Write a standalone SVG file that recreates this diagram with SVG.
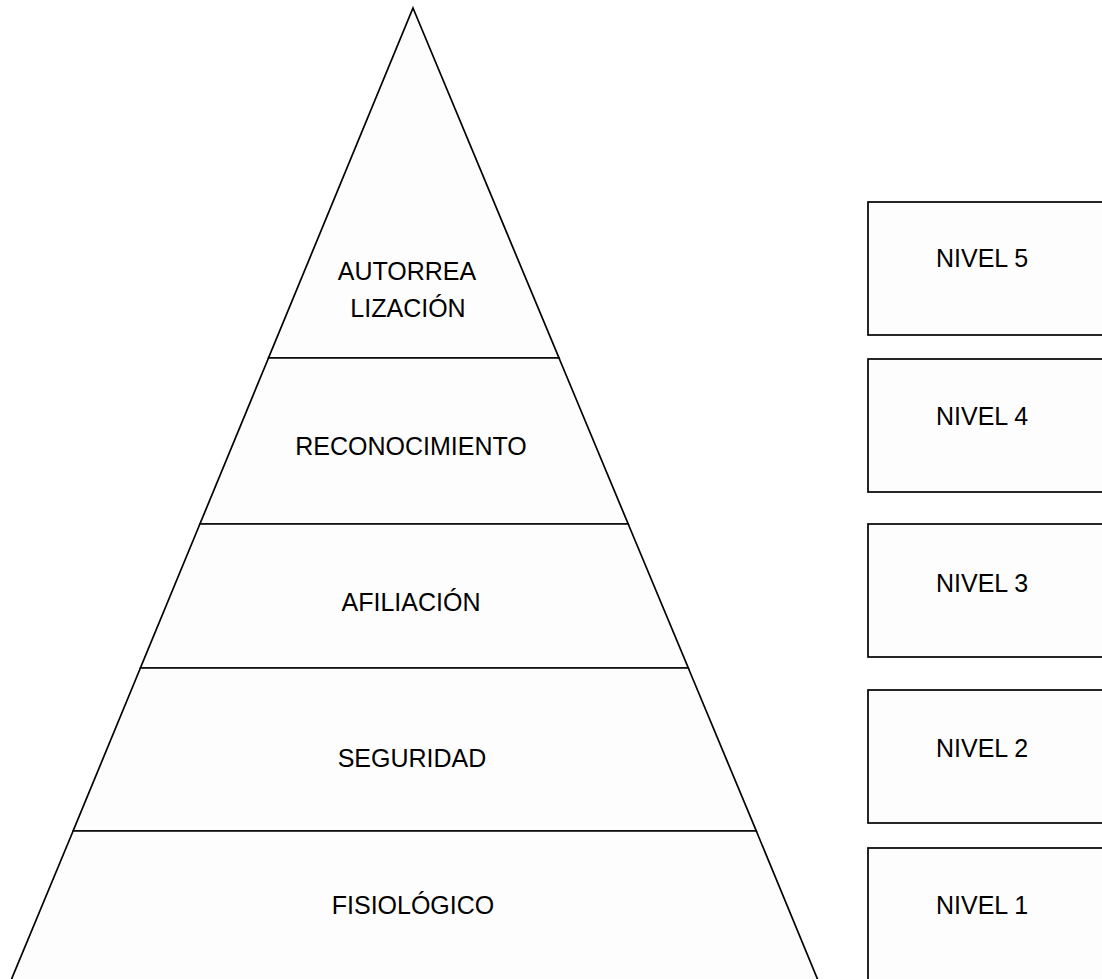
<svg xmlns="http://www.w3.org/2000/svg" width="1102" height="979" viewBox="0 0 1102 979">
<style>
.lvl{fill:#fdfdfd;stroke:#000;stroke-width:1.7;stroke-linejoin:miter}
.box{fill:#fdfdfd;stroke:#000;stroke-width:1.7}
.t{font-family:"Liberation Sans",Arial,sans-serif;font-size:25px;fill:#000}
.c{text-anchor:middle}
</style>
<rect width="1102" height="979" fill="#ffffff"/>
<g id="level5">
<polygon class="lvl" points="413,8 559,358 268.5,358"/>
<text class="t c" x="407" y="280">AUTORREA</text>
<text class="t c" x="408" y="317">LIZACIÓN</text>
</g>
<g id="level4">
<polygon class="lvl" points="268.5,358 559,358 628.2,524 199.9,524"/>
<text class="t c" x="411" y="455">RECONOCIMIENTO</text>
</g>
<g id="level3">
<polygon class="lvl" points="199.9,524 628.2,524 688.3,668 140.4,668"/>
<text class="t c" x="411" y="611">AFILIACIÓN</text>
</g>
<g id="level2">
<polygon class="lvl" points="140.4,668 688.3,668 756.3,831 73.1,831"/>
<text class="t c" x="412" y="767">SEGURIDAD</text>
</g>
<g id="level1">
<polygon class="lvl" points="73.1,831 756.3,831 822,990 7,990"/>
<text class="t c" x="413" y="914">FISIOLÓGICO</text>
</g>
<g id="connectors"></g>
<g id="nivel5">
<rect class="box" x="868" y="202" width="260" height="133"/>
<text class="t" x="936" y="267">NIVEL 5</text>
</g>
<g id="nivel4">
<rect class="box" x="868" y="359" width="260" height="133"/>
<text class="t" x="936" y="425">NIVEL 4</text>
</g>
<g id="nivel3">
<rect class="box" x="868" y="524" width="260" height="133"/>
<text class="t" x="936" y="592">NIVEL 3</text>
</g>
<g id="nivel2">
<rect class="box" x="868" y="690" width="260" height="133"/>
<text class="t" x="936" y="757">NIVEL 2</text>
</g>
<g id="nivel1">
<rect class="box" x="868" y="848" width="260" height="160"/>
<text class="t" x="936" y="914">NIVEL 1</text>
</g>
</svg>
